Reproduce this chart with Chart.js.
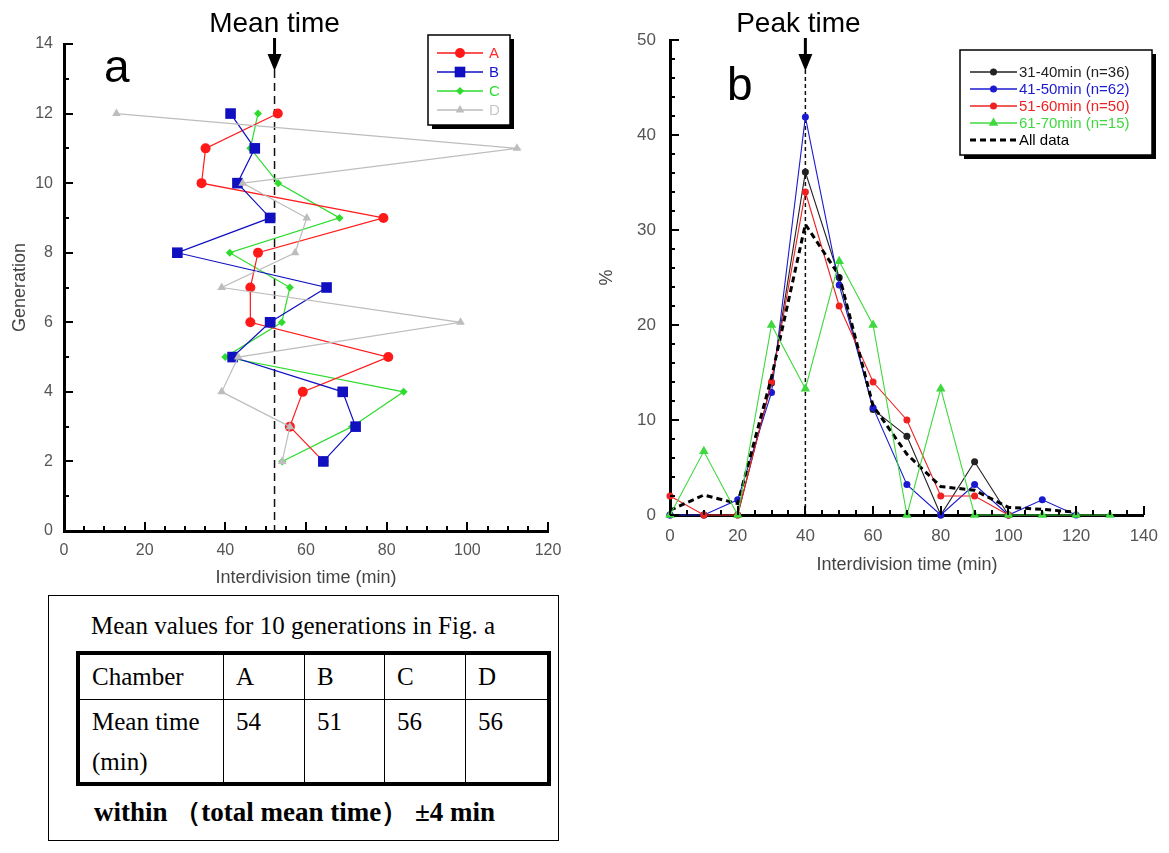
<!DOCTYPE html>
<html>
<head>
<meta charset="utf-8">
<script src="https://cdn.jsdelivr.net/npm/chart.js@4.4.1/dist/chart.umd.min.js"></script>
<style>
body { margin: 0; background: #fff; width: 1169px; height: 853px; position: relative; overflow: hidden; font-family: "Liberation Sans", Arial, sans-serif; }
#chartA { position: absolute; left: 0; top: 0; }
#chartB { position: absolute; left: 585px; top: 0; }
#tableBox { position: absolute; left: 48px; top: 595px; width: 509px; height: 244px; border: 1px solid #000; font-family: "Liberation Serif", "Times New Roman", serif; color: #000; }
#tableBox .cap { position: absolute; left: 42px; top: 14px; font-size: 25px; line-height: 32px; white-space: nowrap; }
#tableBox table { position: absolute; left: 27px; top: 55px; border-collapse: collapse; border: 4px solid #000; font-size: 25px; }
#tableBox td { border: 1.5px solid #000; padding: 0 0 0 12px; text-align: left; }
#tableBox tr.head td { height: 44px; vertical-align: middle; }
#tableBox tr.vals td { height: 80px; vertical-align: top; line-height: 40px; padding-top: 2px; }
#tableBox .note { position: absolute; left: 45px; top: 198px; font-size: 27px; font-weight: bold; line-height: 36px; white-space: nowrap; }
</style>
</head>
<body>
<canvas id="chartA" width="580" height="595"></canvas>
<canvas id="chartB" width="584" height="590"></canvas>

<div id="tableBox">
  <div class="cap" id="tableCap"></div>
  <table id="meanTable"></table>
  <div class="note">within （total mean time） ±4 min</div>
</div>

<script>
// ---- Panel a: interdivision time per generation, four chambers ----
const generations = [2, 3, 4, 5, 6, 7, 8, 9, 10, 11, 12];
const chamberA = [64.3, 56.0, 59.2, 80.4, 46.2, 46.2, 48.1, 79.2, 34.1, 35.1, 53.0];
const chamberB = [64.3, 72.3, 69.1, 41.8, 51.1, 65.1, 28.1, 51.1, 43.0, 47.3, 41.3];
const chamberC = [54.1, 71.4, 84.2, 40.0, 54.0, 56.0, 41.1, 68.3, 53.1, 46.2, 48.1];
const chamberD = [54.1, 56.0, 39.1, 43.2, 98.3, 39.1, 57.3, 60.2, 44.3, 112.3, 13.0];
const meanTime = 52.2;

// ---- Panel b: distribution of interdivision time (%) ----
const binTimes = [0, 10, 20, 30, 40, 50, 60, 70, 80, 90, 100, 110, 120, 130];
const group31to40 = [0, 0, 0, 13.9, 36.1, 25.0, 11.1, 8.3, 0, 5.6, 0];
const group41to50 = [0, 0, 1.6, 12.9, 41.9, 24.2, 11.3, 3.2, 0, 3.2, 0, 1.6, 0];
const group51to60 = [2, 0, 0, 14, 34, 22, 14, 10, 2, 2, 0];
const group61to70 = [0, 6.7, 0, 20, 13.3, 26.7, 20, 0, 13.3, 0, 0, 0, 0, 0];
const allData = [0.5, 2.1, 1.2, 14.5, 30.6, 25.2, 11.5, 6.4, 3.0, 2.6, 0.8, 0.6, 0.3];
const peakTime = 40;

// ---- Table ----
const tableTitle = 'Mean values for 10 generations in Fig. a';
const chambers = ['A', 'B', 'C', 'D'];
const chamberMeans = [54, 51, 56, 56];

// tabella
document.getElementById('tableCap').textContent = tableTitle;
const tbl = document.getElementById('meanTable');
const colW = [131, 80, 79, 80, 81];
let head = '<tr class="head"><td style="width:' + colW[0] + 'px">Chamber</td>';
let vals = '<tr class="vals"><td>Mean time<br>(min)</td>';
chambers.forEach((c, i) => {
    head += '<td style="width:' + (colW[i + 1] - 12) + 'px">' + c + '</td>';
    vals += '<td>' + chamberMeans[i] + '</td>';
});
tbl.innerHTML = head + '</tr>' + vals + '</tr>';

const toA = arr => arr.map((v, i) => ({ x: v, y: generations[i] }));
const toB = arr => arr.map((v, i) => ({ x: binTimes[i], y: v }));

function marker(ctx, style, r, x, y) {
    ctx.beginPath();
    if (style === 'circle') {
        ctx.arc(x, y, r, 0, Math.PI * 2);
    } else if (style === 'rect') {
        const s = r * Math.SQRT1_2;
        ctx.rect(x - s, y - s, 2 * s, 2 * s);
    } else if (style === 'rectRot') {
        ctx.moveTo(x, y - r); ctx.lineTo(x + r, y); ctx.lineTo(x, y + r); ctx.lineTo(x - r, y); ctx.closePath();
    } else if (style === 'triangle') {
        ctx.moveTo(x, y - r); ctx.lineTo(x + r * 0.866, y + r * 0.5); ctx.lineTo(x - r * 0.866, y + r * 0.5); ctx.closePath();
    }
    ctx.fill();
}

// Plugin per tacche interne, linea tratteggiata, freccia, legenda
const decor = {
    id: 'decor',
    beforeDatasetsDraw(chart, args, o) {
        const { ctx, chartArea: area, scales: { x } } = chart;
        const mx = x.getPixelForValue(o.markValue);
        ctx.save();
        ctx.strokeStyle = '#111';
        ctx.lineWidth = 1.5;
        ctx.setLineDash(o.dash);
        ctx.beginPath();
        ctx.moveTo(mx, 70);
        ctx.lineTo(mx, area.bottom);
        ctx.stroke();
        ctx.restore();
    },
    afterDraw(chart, args, o) {
        const { ctx, chartArea: area, scales: { x, y } } = chart;
        ctx.save();
        // tacche
        ctx.strokeStyle = '#000';
        ctx.lineWidth = 2;
        for (let v = x.min; v <= x.max + 1e-6; v += o.xMinor) {
            const px = Math.round(x.getPixelForValue(v));
            const len = Math.abs(v % o.xMajor) < 1e-6 ? 9 : 5;
            ctx.beginPath(); ctx.moveTo(px, area.bottom); ctx.lineTo(px, area.bottom - len); ctx.stroke();
        }
        for (let v = y.min; v <= y.max + 1e-6; v += o.yMinor) {
            const py = Math.round(y.getPixelForValue(v));
            const len = Math.abs(v % o.yMajor) < 1e-6 ? 9 : 5;
            ctx.beginPath(); ctx.moveTo(area.left, py); ctx.lineTo(area.left + len, py); ctx.stroke();
        }
        // freccia
        const mx = x.getPixelForValue(o.markValue);
        ctx.fillStyle = '#000';
        ctx.fillRect(mx - 1.5, 38, 3, 18);
        ctx.beginPath();
        ctx.moveTo(mx - 7, 54); ctx.lineTo(mx + 7, 54); ctx.lineTo(mx, 71); ctx.closePath();
        ctx.fill();
        ctx.font = '28px "Liberation Sans", Arial, sans-serif';
        ctx.textAlign = 'center';
        ctx.textBaseline = 'alphabetic';
        ctx.fillText(o.markLabel, mx + o.labelShift, 32);
        // lettera del pannello
        ctx.font = '46px "Liberation Sans", Arial, sans-serif';
        ctx.textAlign = 'left';
        ctx.fillText(o.letter, o.letterX, o.letterY);
        // legenda
        const b = o.legend;
        ctx.fillStyle = '#000';
        ctx.fillRect(b.x + 4, b.y + 4, b.w, b.h);
        ctx.fillStyle = '#fff';
        ctx.fillRect(b.x, b.y, b.w, b.h);
        ctx.lineWidth = 1.5;
        ctx.strokeStyle = '#000';
        ctx.strokeRect(b.x, b.y, b.w, b.h);
        ctx.font = b.font;
        ctx.textBaseline = 'middle';
        chart.data.datasets.slice().sort((p, q) => p.legendIndex - q.legendIndex).forEach((ds, i) => {
            const ry = b.rowY + i * b.rowGap;
            ctx.strokeStyle = ds.borderColor;
            ctx.lineWidth = ds.borderDash ? ds.borderWidth : 1.3;
            ctx.setLineDash(ds.borderDash || []);
            ctx.beginPath(); ctx.moveTo(b.lineX0, ry); ctx.lineTo(b.lineX1, ry); ctx.stroke();
            ctx.setLineDash([]);
            if (ds.pointRadius > 0) {
                ctx.fillStyle = ds.pointBackgroundColor;
                marker(ctx, ds.pointStyle, ds.pointRadius, (b.lineX0 + b.lineX1) / 2, ry);
            }
            ctx.fillStyle = ds.textColor;
            ctx.fillText(ds.label, b.textX, ry + 1);
        });
        ctx.restore();
    }
};

function series(label, data, color, style, radius, order, legendIndex, textColor) {
    return {
        label, data, order, legendIndex, textColor,
        showLine: true,
        clip: false,
        borderColor: color,
        borderWidth: 1.2,
        pointStyle: style,
        pointRadius: radius,
        pointBackgroundColor: color,
        pointBorderWidth: 0,
        tension: 0
    };
}

function axis(min, max, step, fontSize, pad, titleText, titleSize, titlePad, fitSize, isX) {
    return {
        type: 'linear',
        min, max,
        grid: { display: false, drawTicks: false },
        border: { display: true, color: '#000', width: 3 },
        ticks: { stepSize: step, color: '#555', padding: pad, font: { size: fontSize, family: '"Liberation Sans", Arial' } },
        title: {
            display: true, text: titleText, color: '#444',
            font: { size: titleSize, family: '"Liberation Sans", Arial' },
            padding: isX ? { top: 0, bottom: titlePad } : { top: titlePad, bottom: 0 }
        },
        afterFit: s => { if (isX) s.height = fitSize; else s.width = fitSize; }
    };
}

new Chart(document.getElementById('chartA'), {
    type: 'scatter',
    data: {
        datasets: [
            series('A', toA(chamberA), '#ff1a1a', 'circle', 5, 2, 0, '#ff2a2a'),
            series('B', toA(chamberB), '#1010c0', 'rect', 7.5, 1, 1, '#1515c8'),
            series('C', toA(chamberC), '#2edc2e', 'rectRot', 4, 3, 2, '#2edc2e'),
            series('D', toA(chamberD), '#bdbdbd', 'triangle', 5, 0, 3, '#c8c8c8')
        ]
    },
    options: {
        responsive: false,
        animation: false,
        layout: { padding: { top: 44, right: 32, left: 0, bottom: 0 } },
        scales: {
            x: axis(0, 120, 20, 16, 10, 'Interdivision time (min)', 18, 6, 64, true),
            y: axis(0, 14, 2, 16, 11, 'Generation', 18, 9, 64, false)
        },
        plugins: {
            legend: { display: false },
            tooltip: { enabled: false },
            decor: {
                xMinor: 5, xMajor: 20, yMinor: 1, yMajor: 2,
                markValue: meanTime, markLabel: 'Mean time', labelShift: 0, dash: [8, 5],
                letter: 'a', letterX: 104, letterY: 82,
                legend: { x: 428, y: 35, w: 82, h: 90, rowY: 53, rowGap: 19, lineX0: 437, lineX1: 483, textX: 489, font: '15px "Liberation Sans", Arial' }
            }
        }
    },
    plugins: [decor]
});

function seriesB(label, data, color, style, radius, order, legendIndex) {
    const s = series(label, toB(data), color, style, radius, order, legendIndex, color);
    s.borderWidth = 1.1;
    return s;
}
const dashed = {
    label: 'All data', data: toB(allData), order: 1, legendIndex: 4, textColor: '#000',
    showLine: true, clip: false, borderColor: '#000', borderWidth: 3, borderDash: [6, 4],
    pointRadius: 0, tension: 0
};

new Chart(document.getElementById('chartB'), {
    type: 'scatter',
    data: {
        datasets: [
            seriesB('31-40min (n=36)', group31to40, '#222222', 'circle', 3.5, 4, 0),
            seriesB('41-50min (n=62)', group41to50, '#1a1ad0', 'circle', 3.5, 3, 1),
            seriesB('51-60min (n=50)', group51to60, '#ee2222', 'circle', 3.5, 2, 2),
            seriesB('61-70min (n=15)', group61to70, '#3fd83f', 'triangle', 5.5, 0, 3),
            dashed
        ]
    },
    options: {
        responsive: false,
        animation: false,
        layout: { padding: { top: 40, right: 24, left: 0, bottom: 0 } },
        scales: {
            x: axis(0, 140, 20, 17, 11, 'Interdivision time (min)', 18, 14, 75, true),
            y: axis(0, 50, 10, 17, 14, '%', 18, 11, 85, false)
        },
        plugins: {
            legend: { display: false },
            tooltip: { enabled: false },
            decor: {
                xMinor: 5, xMajor: 20, yMinor: 2, yMajor: 10,
                markValue: peakTime, markLabel: 'Peak time', labelShift: -7, dash: [4, 3],
                letter: 'b', letterX: 142, letterY: 100,
                legend: { x: 375, y: 50, w: 192, h: 105, rowY: 72, rowGap: 17, lineX0: 385, lineX1: 432, textX: 434, font: '15px "Liberation Sans", Arial' }
            }
        }
    },
    plugins: [decor]
});
</script>
</body>
</html>
